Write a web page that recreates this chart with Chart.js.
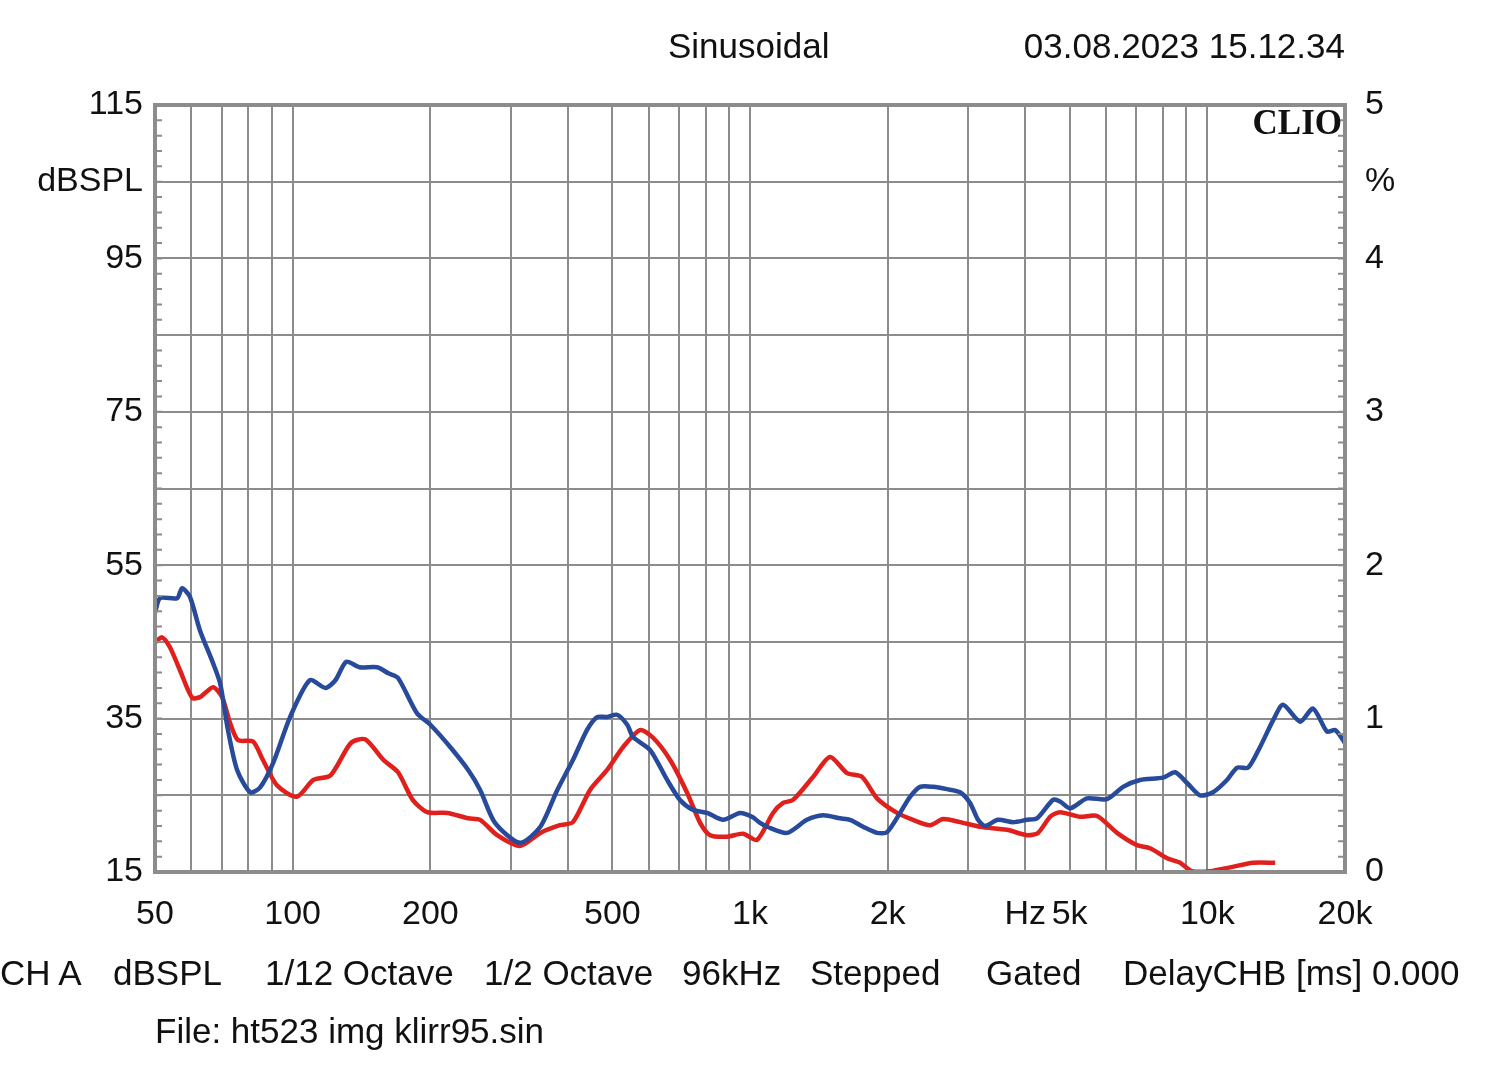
<!DOCTYPE html>
<html>
<head>
<meta charset="utf-8">
<script src="https://cdn.jsdelivr.net/npm/chart.js@4/dist/chart.umd.min.js"></script>
<style>
  body { margin: 0; background: #fff; }
  #wrap { position: relative; width: 1500px; height: 1074px; font-family: "Liberation Sans", Arial, sans-serif; font-size: 35px; color: #111; }
  #wrap canvas { position: absolute; left: 0; top: 0; }
  .txt { position: absolute; white-space: nowrap; line-height: 1; }
  .clio { font-family: "Liberation Serif", "DejaVu Serif", serif; font-weight: bold; font-size: 35px; }
</style>
</head>
<body>
<div id="wrap">
  <canvas id="klirr" width="1500" height="1074"></canvas>
  <div class="txt" style="left:668px; top:28px;">Sinusoidal</div>
  <div class="txt" style="right:155px; top:28px;">03.08.2023 15.12.34</div>
  <div class="txt clio" style="right:158px; top:105px;">CLIO</div>
  <div class="txt" style="left:0px; top:955px;">CH A</div>
  <div class="txt" style="left:113px; top:955px;">dBSPL</div>
  <div class="txt" style="left:265px; top:955px;">1/12 Octave</div>
  <div class="txt" style="left:484px; top:955px;">1/2 Octave</div>
  <div class="txt" style="left:682px; top:955px;">96kHz</div>
  <div class="txt" style="left:810px; top:955px;">Stepped</div>
  <div class="txt" style="left:986px; top:955px;">Gated</div>
  <div class="txt" style="left:1123px; top:955px;">DelayCHB [ms] 0.000</div>
  <div class="txt" style="left:155px; top:1013px;">File: ht523 img klirr95.sin</div>
</div>
<script>
// frequencies (Hz) and levels (dBSPL)
var blueFreq = [50, 51.3, 55.9, 57.3, 59.6, 62.7, 67.0, 69.4, 72.2, 75.6, 80.7, 84.8, 90.6, 98.7,
  109, 118, 124, 131, 140, 153, 162, 170, 187, 200, 221, 242, 257, 277, 314, 348, 379, 410, 440,
  463, 487, 512, 539, 555, 605, 659, 703, 751, 806, 874, 951, 1010, 1052, 1090, 1205, 1332, 1444,
  1574, 1655, 1767, 1896, 1994, 2129, 2238, 2355, 2513, 2697, 2880, 3028, 3153, 3266, 3486, 3760,
  4034, 4242, 4599, 4764, 5010, 5457, 6036, 6544, 7128, 8005, 8503, 9032, 9640, 10290, 11040,
  11620, 12280, 13040, 13930, 14640, 15950, 17030, 18270, 19030, 19810, 20000];
var blueDb = [48.8, 50.7, 50.7, 52.0, 50.9, 46.5, 42.2, 39.6, 33.5, 28.3, 25.4, 26.0, 29.2, 35.2,
  40.0, 39.0, 40.0, 42.4, 41.7, 41.7, 40.9, 40.3, 35.7, 34.2, 31.3, 28.3, 25.7, 21.4, 18.8, 20.9, 25.7, 29.6, 33.5,
  35.2, 35.2, 35.5, 34.2, 32.6, 30.9, 27.0, 24.4, 23.1, 22.7, 21.8, 22.7, 22.2, 21.4, 20.9, 20.1, 21.8, 22.4,
  22.0, 21.8, 20.9, 20.1, 20.2, 22.7, 24.8, 26.1, 26.1, 25.8, 25.4, 24.0, 21.8, 21.0, 21.8, 21.5,
  21.8, 22.0, 24.4, 24.2, 23.3, 24.6, 24.5, 26.1, 27.0, 27.3, 28.0, 26.6, 25.0, 25.4, 27.0,
  28.6, 28.6, 31.3, 34.8, 36.8, 34.6, 36.3, 33.3, 33.5, 32.2, 31.8];

var redFreq = [50, 51.8, 53.9, 56.7, 60.3, 62.7, 67.0, 70.1, 73.0, 75.9, 81.9, 86.1, 92.4, 102,
  111, 121, 134, 144, 158, 170, 183, 197, 218, 242, 257, 280, 314, 348, 384, 410, 447, 487, 528,
  575, 614, 669, 729, 778, 818, 891, 966, 1036, 1123, 1181, 1242, 1374, 1496, 1630, 1758, 1896,
  2097, 2273, 2476, 2643, 2880, 3185, 3648, 4034, 4264, 4530, 4764, 5270, 5739, 6347, 7018, 7495,
  8167, 8720, 9262, 10140, 11210, 12590, 14070];
var redDb = [44.9, 45.6, 44.3, 41.3, 37.7, 37.8, 39.1, 37.8, 34.4, 32.2, 32.0, 29.6, 26.3, 24.8,
  27.0, 27.6, 31.8, 32.3, 29.6, 28.0, 24.4, 22.8, 22.7, 22.0, 21.8, 19.8, 18.4, 20.1, 21.1, 21.5, 25.7, 28.3, 31.3,
  33.5, 32.5, 29.6, 25.3, 21.4, 19.8, 19.6, 20.0, 19.2, 22.7, 24.0, 24.4, 27.4, 30.0, 27.9, 27.4, 24.6,
  22.7, 21.8, 21.1, 21.9, 21.5, 20.9, 20.5, 19.8, 20.1, 22.2, 22.8, 22.2, 22.3, 20.1, 18.5, 18.1,
  16.8, 16.2, 15.1, 15.1, 15.6, 16.2, 16.2];

// grid lines and labels of the frequency axis
var freqGrid = [50, 60, 70, 80, 90, 100, 200, 300, 400, 500, 600, 700, 800, 900, 1000,
  2000, 3000, 4000, 5000, 6000, 7000, 8000, 9000, 10000, 20000];
var freqLabels = { 50: '50', 100: '100', 200: '200', 500: '500', 1000: '1k', 2000: '2k',
  4000: 'Hz', 5000: '5k', 10000: '10k', 20000: '20k' };

function toPoints(xs, ys) {
  return xs.map(function (f, i) { return { x: f, y: ys[i] }; });
}

var gridColor = '#8c8c8c';
var tickFont = { family: '"Liberation Sans", Arial, sans-serif', size: 34 };

// border of the plot and the small inner ticks every 2 dB
var frameTicks = {
  id: 'frameTicks',
  afterDraw: function (chart) {
    var ctx = chart.ctx;
    var a = chart.chartArea;
    var y = chart.scales.y;
    ctx.save();
    ctx.strokeStyle = gridColor;
    ctx.lineWidth = 2;
    for (var v = 15; v <= 115; v += 2) {
      var py = y.getPixelForValue(v);
      ctx.beginPath();
      ctx.moveTo(a.left, py);
      ctx.lineTo(a.left + 7, py);
      ctx.moveTo(a.right, py);
      ctx.lineTo(a.right - 7, py);
      ctx.stroke();
    }
    ctx.lineWidth = 4;
    ctx.strokeRect(a.left, a.top, a.right - a.left, a.bottom - a.top);
    ctx.restore();
  }
};

var chart = new Chart(document.getElementById('klirr'), {
  type: 'line',

  data: {
    datasets: [{
      label: 'blue',
      data: toPoints(blueFreq, blueDb),
      borderColor: '#284a9a',
      borderWidth: 4.5,
      pointRadius: 0,
      tension: 0.25
    }, {
      label: 'red',
      data: toPoints(redFreq, redDb),
      borderColor: '#e0201c',
      borderWidth: 4.5,
      pointRadius: 0,
      tension: 0.25
    }]
  },

  options: {
    responsive: false,
    animation: false,
    layout: { padding: { top: 105, left: 0, right: 0, bottom: 0 } },
    plugins: { legend: { display: false }, tooltip: { enabled: false } },
    scales: {
      x: {
        type: 'logarithmic',
        min: 50,
        max: 20000,
        afterBuildTicks: function (scale) {
          scale.ticks = freqGrid.map(function (v) { return { value: v }; });
        },
        afterFit: function (scale) { scale.height = 202; },
        grid: { color: gridColor, lineWidth: 2, drawTicks: false },
        border: { display: false },
        ticks: {
          autoSkip: false,
          maxRotation: 0,
          padding: 22,
          color: '#111',
          font: tickFont,
          callback: function (v) { return freqLabels[v] || ''; }
        }
      },
      y: {
        position: 'left',
        min: 15,
        max: 115,
        afterFit: function (scale) { scale.width = 155; },
        grid: { color: gridColor, lineWidth: 2, drawTicks: false },
        border: { display: false },
        ticks: {
          stepSize: 10,
          padding: 12,
          color: '#111',
          font: tickFont,
          callback: function (v) {
            if (v === 105) return 'dBSPL';
            return (v - 15) % 20 === 0 ? v : '';
          }
        }
      },
      y2: {
        position: 'right',
        min: 0,
        max: 5,
        afterFit: function (scale) { scale.width = 155; },
        grid: { display: false },
        border: { display: false },
        ticks: {
          stepSize: 0.5,
          padding: 12,
          color: '#111',
          font: tickFont,
          callback: function (v) {
            if (v === 4.5) return '%';
            return Number.isInteger(v) ? v : '';
          }
        }
      }
    }
  },

  plugins: [frameTicks]
});
</script>
</body>
</html>
